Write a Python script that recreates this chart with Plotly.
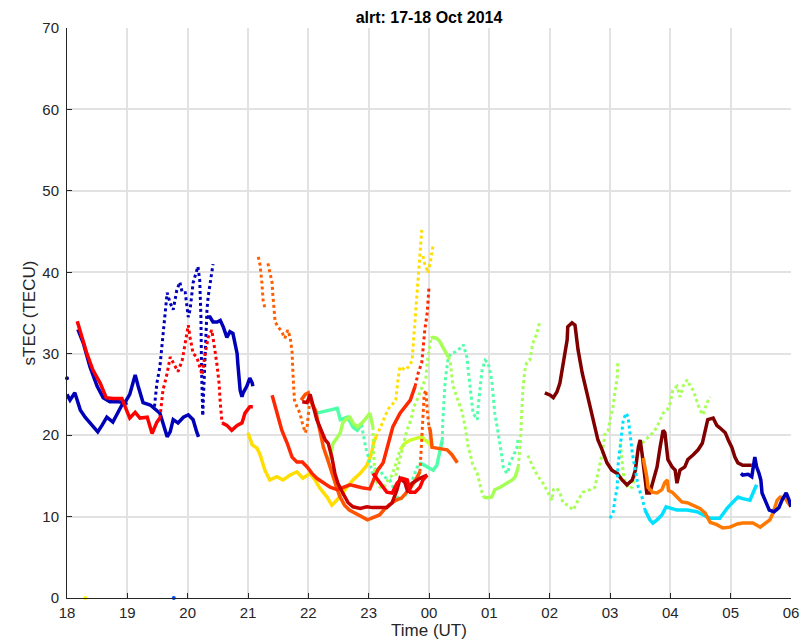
import plotly.graph_objects as go

# ---------------- data (time in hours since 00 UT 17 Oct; 24 = 00 UT 18 Oct) -------------
tick_vals = [18, 19, 20, 21, 22, 23, 24, 25, 26, 27, 28, 29, 30]
tick_text = ["18", "19", "20", "21", "22", "23", "00", "01", "02", "03", "04", "05", "06"]
y_ticks = [0, 10, 20, 30, 40, 50, 60, 70]

# dark blue tracks
blue_lo_t = [18.0, 18.05, 18.13, 18.22, 18.3, 18.38, 18.45, 18.51, 18.58, 18.66, 18.76, 18.85, 18.91, 19.0]
blue_lo_v = [25, 24.3, 25.2, 23.1, 22.2, 21.5, 21, 20.4, 21.2, 22.2, 21.6, 22.8, 23.7, 24]
blue_up_t = [18.18, 18.27, 18.38, 18.5, 18.6, 18.71, 18.85, 18.96, 19.04, 19.1, 19.13, 19.18, 19.22, 19.26,
             19.38, 19.49, 19.54, 19.59, 19.66, 19.71, 19.76, 19.84, 19.93, 20.01, 20.09, 20.15, 20.18]
blue_up_v = [33, 31.3, 28.4, 26, 24.6, 24.1, 24.1, 24, 25, 26.8, 27.4, 26, 25, 24,
             23.7, 23.1, 22.7, 21.5, 19.8, 20.4, 21.9, 21.5, 22.2, 22.5, 21.9, 20.4, 19.8]
blue_hi_t = [19.45, 19.49, 19.54, 19.57, 19.59, 19.62, 19.66, 19.71, 19.76, 19.82, 19.87, 19.91, 19.96,
             20.01, 20.04, 20.09, 20.15, 20.17, 20.2, 20.22, 20.23, 20.24, 20.25]
blue_hi_v = [23.5, 26.4, 28.4, 30.5, 32.5, 34.5, 37.5, 36.2, 35.4, 37.8, 38.8, 37.5, 37.5,
             34.5, 35.4, 38.7, 40.3, 40.7, 39, 34.5, 28, 24, 22.5]
blue_hi2_t = [20.25, 20.27, 20.29, 20.32, 20.34, 20.37, 20.42]
blue_hi2_v = [22.5, 26, 30.5, 35.4, 37, 38.7, 41]
blue_d_t = [20.32, 20.37, 20.42, 20.49, 20.54, 20.59, 20.65, 20.7, 20.75, 20.78, 20.82, 20.83, 20.85,
            20.87, 20.9, 20.92, 20.98, 21.03, 21.07, 21.08]
blue_d_v = [34.5, 34.5, 33.9, 33.9, 34.1, 33.3, 32, 32.7, 32.5, 31.3, 30, 28.9, 27,
            25.5, 24.7, 25.2, 26, 27, 26.4, 26]
blue_end_t = [29.17, 29.2, 29.29, 29.35, 29.4, 29.43, 29.47, 29.5, 29.52, 29.59, 29.64, 29.72, 29.8,
              29.85, 29.92, 29.97, 30.0]
blue_end_v = [15.3, 15.1, 15.2, 14.9, 17.3, 16.1, 15.3, 14.5, 12.9, 11.7, 10.8, 10.6, 11.1,
              12, 12.9, 12, 11.2]

# red track 18-21
red_a_t = [18.17, 18.25, 18.33, 18.43, 18.55, 18.65, 18.76, 18.91, 19.0, 19.04, 19.13, 19.21, 19.33,
           19.41, 19.49, 19.54]
red_a_v = [34, 32, 30, 28, 26.4, 24.6, 24.5, 24.5, 22.7, 22.1, 22.8, 22.1, 22.2, 20.2, 21.6, 22.1]
red_b_t = [19.54, 19.59, 19.66, 19.71, 19.76, 19.84, 19.91, 19.96, 20.01, 20.04, 20.09, 20.15, 20.2,
           20.24, 20.29, 20.34, 20.4, 20.42, 20.45, 20.49, 20.52, 20.54, 20.57]
red_b_v = [22.1, 25.5, 27.6, 29.6, 28.9, 27.8, 29.2, 31.3, 33.5, 32, 30, 29.6, 28.4,
           27.4, 30, 32, 32.9, 31.7, 30.5, 28.4, 26.4, 24, 21.5]
red_c_t = [20.57, 20.65, 20.73, 20.82, 20.9, 20.95, 21.03, 21.08]
red_c_v = [21.5, 21.2, 20.6, 21.2, 21.5, 22.7, 23.5, 23.5]
red2_t = [23.07, 23.19, 23.3, 23.39, 23.47, 23.55, 23.64, 23.69, 23.77, 23.85, 23.9, 23.97]
red2_v = [15.3, 14.1, 13, 12.9, 14.1, 14.7, 14.5, 13, 13, 13.6, 14.5, 15.1]

# yellow tracks
yel_a_t = [21.0, 21.07, 21.15, 21.2, 21.28, 21.36, 21.48, 21.58, 21.7, 21.81, 21.91, 22.03, 22.11,
           22.19, 22.31, 22.39, 22.47, 22.56, 22.64, 22.74, 22.86, 22.97, 23.05, 23.08, 23.12]
yel_a_v = [20.3, 18.8, 18.4, 17.6, 15.7, 14.5, 14.9, 14.5, 15.1, 15.5, 14.7, 15.3, 14.5,
           13.5, 12.4, 11.4, 12, 12.9, 13.6, 14.5, 15.3, 16.3, 17.8, 19, 19.8]
yel_b_t = [23.12, 23.2, 23.28, 23.35, 23.42, 23.45, 23.49, 23.52, 23.6, 23.68, 23.72, 23.74, 23.77,
           23.8, 23.82, 23.85, 23.88]
yel_b_v = [19.8, 21, 22.5, 23.5, 24, 24.3, 27.1, 28.4, 28, 28.5, 29.2, 31.3, 34.1, 37.5, 39, 43.1, 45.2]
yel_c_t = [23.9, 23.93, 23.96, 23.98, 24.0, 24.02, 24.05, 24.07]
yel_c_v = [42, 41, 40.5, 39.9, 40.5, 41.1, 42.5, 43.4]

# orange-red sparse track 21.2-22
ored_a_t = [21.17, 21.2, 21.23, 21.25, 21.28]
ored_a_v = [41.9, 40.9, 38.7, 36.6, 35.6]
ored_b_t = [21.33, 21.36, 21.4, 21.41, 21.45, 21.5, 21.56, 21.61, 21.66, 21.7, 21.73, 21.75, 21.77,
            21.81, 21.86, 21.9, 21.95, 21.98, 22.03]
ored_b_v = [41.1, 39.9, 38.7, 37.4, 33.9, 33.3, 32.7, 31.9, 32.9, 32, 30.2, 26.8, 24.3,
            23.5, 22.7, 21.5, 20.3, 21, 24.7]

# orange track 22-24.5
orng_a_t = [21.88, 21.95, 22.0, 22.05, 22.12, 22.18, 22.25, 22.32, 22.38, 22.45, 22.52, 22.6, 22.68,
            22.78, 22.88, 22.98, 23.05, 23.12, 23.18, 23.25, 23.35, 23.45, 23.55, 23.62, 23.7, 23.78, 23.85]
orng_a_v = [24.3, 25, 25.2, 24, 23, 21, 18.5, 17, 15.5, 14, 12.5, 11.4, 10.8,
            10.4, 10, 9.6, 9.8, 10, 10.2, 10.8, 11.5, 12, 12.3, 12.9, 13.6, 14.5, 15.5]
orng_b_t = [23.85, 23.87, 23.89, 23.9, 23.92, 23.95, 23.97, 24.0]
orng_b_v = [15.5, 18, 20.5, 23, 25, 25.5, 23, 21]
orng_c_t = [24.0, 24.02, 24.05, 24.15, 24.3, 24.38, 24.43, 24.47]
orng_c_v = [21, 20.6, 18.5, 18.4, 18.2, 17.6, 17, 16.6]

# red-orange track 21.4-24
rorg_a_t = [21.4, 21.48, 21.56, 21.65, 21.73, 21.81, 21.9, 21.98, 22.06, 22.14, 22.24, 22.36, 22.48,
            22.57, 22.69, 22.81, 22.91, 23.02, 23.1, 23.15, 23.24, 23.32, 23.4, 23.52, 23.6, 23.69, 23.77]
rorg_a_v = [24.9, 22.7, 20.6, 19, 17.3, 16.7, 16.7, 16.1, 15.3, 14.7, 14.2, 13.6, 13.3,
            13.6, 13.9, 13.7, 13.5, 13.4, 15, 15.7, 16.6, 19, 21, 22.7, 23.5, 24.3, 26]
rorg_b_t = [23.77, 23.82, 23.88, 23.9, 23.93, 23.97, 23.98, 24.0]
rorg_b_v = [26, 27.6, 28.9, 30.5, 32.9, 35, 36.6, 38.2]

# dark red track 22-24
dred_t = [21.9, 21.98, 22.03, 22.08, 22.14, 22.23, 22.28, 22.33, 22.39, 22.44, 22.49, 22.57, 22.66,
          22.74, 22.86, 22.97, 23.07, 23.19, 23.3, 23.39, 23.47, 23.52, 23.6, 23.65, 23.72, 23.85, 23.97]
dred_v = [24.1, 24, 25, 23.5, 21.9, 20.3, 19.4, 19, 17.3, 15.3, 14.1, 12.9, 11.7,
          11.2, 11, 11.2, 11.1, 11.1, 11.1, 11.7, 13.3, 14.7, 14.2, 13, 14.1, 14.7, 15.1]

# aquamarine track 22.1-25.5
aqua_a_t = [22.14, 22.24, 22.36, 22.48, 22.53, 22.65, 22.74, 22.81, 22.88]
aqua_a_v = [22.7, 22.9, 23.1, 23.3, 21.9, 22.2, 21, 20.6, 21.3]
aqua_b_t = [22.88, 22.95, 23.0, 23.03, 23.06, 23.15, 23.25, 23.35, 23.45, 23.5, 23.6, 23.7, 23.8, 23.85]
aqua_b_v = [21.3, 18.5, 17.2, 16.1, 15.3, 16.2, 14.9, 14.5, 12.9, 12, 12.5, 14, 16, 16.6]
aqua_c_t = [23.85, 23.97, 24.07, 24.13, 24.18, 24.22]
aqua_c_v = [16.6, 16.1, 15.7, 16.3, 17.8, 19.4]
aqua_d_t = [24.22, 24.23, 24.27, 24.3, 24.32, 24.38, 24.43, 24.48, 24.55, 24.57, 24.6, 24.63, 24.65,
            24.68, 24.71, 24.73, 24.8, 24.81, 24.85, 24.88, 24.93, 24.98, 25.04, 25.06, 25.09, 25.13,
            25.18, 25.21, 25.23, 25.29, 25.31, 25.34, 25.39, 25.46, 25.48]
aqua_d_v = [19.4, 21.9, 26.8, 28.9, 29.6, 30.1, 30.2, 30.5, 30.8, 31.1, 30.1, 29.5, 28,
            26, 24, 22.7, 21.9, 23.1, 26, 28, 29.2, 28.9, 26.8, 24.7, 22.7, 21,
            19, 17.3, 16.1, 15.3, 15.5, 16.6, 17.3, 18.5, 19.8]

# light-green tracks
lg1_a_t = [22.35, 22.41, 22.47, 22.53, 22.57, 22.63, 22.69, 22.74, 22.81, 22.89, 22.97, 23.02, 23.07]
lg1_a_v = [17, 19, 19.6, 20.3, 21.5, 22, 22.2, 21.5, 21, 21.5, 22.2, 22.7, 21]
lg1_b_t = [23.07, 23.08, 23.1, 23.14, 23.19, 23.25, 23.32, 23.39, 23.45, 23.52]
lg1_b_v = [21, 17.8, 15.7, 14.1, 13.6, 13.5, 14.5, 15.1, 16.5, 18.2]
lime_t = [23.52, 23.6, 23.69, 23.8, 23.88, 23.93, 23.97, 24.02, 24.07]
lime_v = [18.2, 19, 19.4, 19.6, 19.8, 19.4, 19.2, 18.8, 18.5]
lg2_a_t = [23.45, 23.52, 23.58, 23.63, 23.7, 23.75, 23.8, 23.85, 23.9, 23.95, 23.97, 24.0, 24.02, 24.03]
lg2_a_v = [15, 17, 19, 20.5, 21.9, 23.5, 24.3, 25.2, 26, 27.1, 28.9, 30.1, 31.3, 31.9]
lg2_b_t = [24.03, 24.07, 24.13, 24.18, 24.23, 24.28, 24.32]
lg2_b_v = [31.9, 32, 31.9, 31.5, 30.8, 30.2, 29.6]
lg2_c_t = [24.32, 24.35, 24.38, 24.4, 24.46, 24.51, 24.55, 24.6, 24.65, 24.68, 24.72, 24.8, 24.85, 24.88, 24.9]
lg2_c_v = [29.6, 29.2, 27.1, 26, 24.7, 23.5, 22.8, 21, 18.5, 17.8, 16.5, 15.3, 13.6, 12.9, 12.4]
lg2_d_t = [24.9, 24.96, 25.04, 25.09, 25.18, 25.29, 25.38, 25.43, 25.48]
lg2_d_v = [12.4, 12.3, 12.4, 13.3, 13.6, 14.1, 14.5, 14.9, 16.1]
lg2_e_t = [25.48, 25.5, 25.52, 25.53, 25.54, 25.56, 25.59, 25.62, 25.67, 25.72, 25.79, 25.84]
lg2_e_v = [16.1, 17.8, 19.8, 21.9, 24, 26, 28, 28.9, 29.2, 31.3, 32.5, 34.1]
lg3_t = [25.64, 25.67, 25.72, 25.81, 25.89, 25.97, 26.04, 26.06, 26.12, 26.17, 26.22, 26.3, 26.39,
         26.47, 26.55, 26.67, 26.75, 26.8, 26.87, 26.92, 26.97, 27.0, 27.05, 27.08, 27.12, 27.13]
lg3_v = [17.5, 17, 16.1, 14.9, 14.1, 13, 12, 13.3, 13.5, 12.9, 11.7, 11.4, 10.8,
         12, 13, 13.3, 13.6, 15.3, 17.8, 20.3, 20.6, 21.9, 23.5, 25.2, 27.1, 29.2]
lg4_t = [27.17, 27.22, 27.25, 27.3, 27.37, 27.42, 27.45, 27.5, 27.6, 27.71, 27.78, 27.83, 27.88,
         27.95, 28.0, 28.04, 28.11, 28.16, 28.21, 28.28, 28.33, 28.38, 28.44, 28.49, 28.54, 28.61, 28.66]
lg4_v = [19, 15.3, 14.3, 13.5, 13.6, 15.3, 17.8, 18.8, 19.5, 20.3, 21, 21.9, 22.7,
         23.1, 24, 25.5, 26, 24.7, 26, 26.8, 26, 25.5, 24.3, 23.1, 22.5, 24, 24.7]

# maroon track
mar_t = [25.92, 26.01, 26.06, 26.12, 26.17, 26.22, 26.29, 26.3, 26.37, 26.42, 26.47, 26.54, 26.59,
         26.64, 26.7, 26.75, 26.8, 26.87, 26.95, 27.03, 27.12, 27.2, 27.28, 27.37, 27.42, 27.47,
         27.5, 27.53, 27.58, 27.61, 27.66, 27.71, 27.78, 27.83, 27.88, 27.91, 27.96, 28.03, 28.08,
         28.11, 28.16, 28.24, 28.29, 28.38, 28.46, 28.53, 28.58, 28.62, 28.71, 28.77, 28.82, 28.91,
         28.96, 29.02, 29.07, 29.12, 29.2, 29.29, 29.35]
mar_v = [25.2, 24.9, 24.6, 25.3, 26.4, 28.4, 31.7, 33.3, 33.8, 33.5, 30.5, 27.6, 26,
         24.3, 22.2, 21, 19.4, 18.2, 16.6, 15.7, 15.3, 14.5, 13.9, 14.5, 15.7, 18.5,
         19.4, 17.8, 14.5, 12.9, 12.9, 14.1, 16.1, 18.5, 20.6, 20.3, 17, 16.1, 15.7,
         14.1, 15.7, 16.1, 17, 17.6, 18.2, 19, 20.6, 21.9, 22.1, 21.2, 20.9, 20.3,
         19.4, 18.5, 17.3, 16.6, 16.3, 16.3, 16.3]

# cyan track
cyan_a_t = [27.0, 27.05, 27.08, 27.12, 27.13, 27.17, 27.2, 27.22, 27.27, 27.3, 27.33, 27.37, 27.42,
            27.47, 27.53, 27.58]
cyan_a_v = [9.8, 10.4, 12, 13.6, 16.1, 18.5, 20.6, 21.9, 22.7, 22.2, 20.3, 17.8, 15.7, 13.6, 12.4, 10.8]
cyan_b_t = [27.58, 27.66, 27.71, 27.78, 27.86, 27.93, 28.11, 28.28, 28.44, 28.54, 28.66, 28.82, 28.94,
            29.04, 29.12, 29.2, 29.32, 29.37, 29.43]
cyan_b_v = [10.8, 9.6, 9.2, 9.6, 10.2, 11.2, 10.8, 10.8, 10.6, 10.2, 9.8, 9.8, 11,
            11.8, 12.4, 12.2, 12, 12.9, 13.9]

# orange track 27.5-30
or2_t = [27.55, 27.58, 27.61, 27.63, 27.7, 27.78, 27.86, 27.91, 27.95, 27.97, 28.03, 28.11, 28.19,
         28.28, 28.38, 28.49, 28.58, 28.66, 28.77, 28.87, 28.99, 29.11, 29.2, 29.37, 29.49, 29.57,
         29.65, 29.7, 29.77, 29.82, 29.9, 29.95, 30.0]
or2_v = [17.2, 16.1, 14.9, 13.6, 13, 12.9, 13.3, 14.2, 14.5, 13.2, 13, 12.4, 11.8,
         11.7, 11.4, 11, 10.4, 9.3, 9, 8.6, 8.7, 9.1, 9.2, 9.2, 8.7, 9.2,
         9.6, 10.4, 12, 12.4, 12.3, 11.7, 11.2]

# isolated points
pt_blue_t = [18.0]
pt_blue_v = [27]
pt_yel0_t = [18.3]
pt_yel0_v = [0]
pt_blu0_t = [19.77]
pt_blu0_v = [0]

# ---------------- styling ----------------
NAVY = "rgb(0,0,185)"
RED = "rgb(255,0,0)"
YEL = "rgb(255,222,0)"
ORED = "rgb(255,95,0)"
ORNG = "rgb(255,85,0)"
RORG = "rgb(255,40,0)"
DRED = "rgb(200,0,0)"
AQUA = "rgb(80,255,170)"
LGRN = "rgb(165,255,85)"
LIME = "rgb(205,255,45)"
MAR = "rgb(128,0,0)"
CYAN = "rgb(0,225,255)"
OR2 = "rgb(255,120,0)"

SOLID, DOT = "solid", "dot"

segments = [
    (blue_lo_t, blue_lo_v, NAVY, SOLID),
    (blue_up_t, blue_up_v, NAVY, SOLID),
    (blue_hi_t, blue_hi_v, NAVY, DOT),
    (blue_hi2_t, blue_hi2_v, NAVY, DOT),
    (blue_d_t, blue_d_v, NAVY, SOLID),
    (red_a_t, red_a_v, RED, SOLID),
    (red_b_t, red_b_v, RED, DOT),
    (red_c_t, red_c_v, RED, SOLID),
    (yel_a_t, yel_a_v, YEL, SOLID),
    (yel_b_t, yel_b_v, YEL, DOT),
    (yel_c_t, yel_c_v, YEL, DOT),
    (ored_a_t, ored_a_v, ORED, DOT),
    (ored_b_t, ored_b_v, ORED, DOT),
    (aqua_a_t, aqua_a_v, AQUA, SOLID),
    (aqua_b_t, aqua_b_v, AQUA, DOT),
    (aqua_c_t, aqua_c_v, AQUA, SOLID),
    (aqua_d_t, aqua_d_v, AQUA, DOT),
    (lg1_a_t, lg1_a_v, LGRN, SOLID),
    (lg1_b_t, lg1_b_v, LGRN, DOT),
    (lime_t, lime_v, LIME, SOLID),
    (lg2_a_t, lg2_a_v, LGRN, DOT),
    (lg2_b_t, lg2_b_v, LGRN, SOLID),
    (lg2_c_t, lg2_c_v, LGRN, DOT),
    (lg2_d_t, lg2_d_v, LGRN, SOLID),
    (lg2_e_t, lg2_e_v, LGRN, DOT),
    (lg3_t, lg3_v, LGRN, DOT),
    (lg4_t, lg4_v, LGRN, DOT),
    (orng_a_t, orng_a_v, ORNG, SOLID),
    (orng_b_t, orng_b_v, ORNG, DOT),
    (orng_c_t, orng_c_v, ORNG, SOLID),
    (rorg_a_t, rorg_a_v, RORG, SOLID),
    (rorg_b_t, rorg_b_v, RORG, DOT),
    (dred_t, dred_v, DRED, SOLID),
    (red2_t, red2_v, RED, SOLID),
    (mar_t, mar_v, MAR, SOLID),
    (cyan_a_t, cyan_a_v, CYAN, DOT),
    (cyan_b_t, cyan_b_v, CYAN, SOLID),
    (or2_t, or2_v, OR2, SOLID),
    (blue_end_t, blue_end_v, NAVY, SOLID),
]

fig = go.Figure()
for t, v, col, sty in segments:
    if sty == SOLID:
        line = dict(color=col, width=3.5)
    else:
        line = dict(color=col, width=3, dash="3px,3px")
    fig.add_trace(go.Scatter(x=t, y=v, mode="lines", line=line, showlegend=False,
                             hoverinfo="skip"))

for t, v, col in [(pt_blue_t, pt_blue_v, NAVY), (pt_yel0_t, pt_yel0_v, "rgb(255,255,0)"),
                  (pt_blu0_t, pt_blu0_v, "rgb(0,70,255)")]:
    fig.add_trace(go.Scatter(x=t, y=v, mode="markers", marker=dict(color=col, size=4),
                             showlegend=False, hoverinfo="skip", cliponaxis=False))

AX = "#262626"
FONT = "Liberation Sans, Arial, Helvetica, sans-serif"
fig.update_layout(
    width=804, height=642,
    margin=dict(l=67, r=13, t=28, b=44, autoexpand=False),
    paper_bgcolor="white", plot_bgcolor="white",
    font=dict(family=FONT, size=15, color=AX),
    title=dict(text="<b>alrt: 17-18 Oct 2014</b>", x=0.5, xref="paper", xanchor="center",
               y=1 - 17 / 642, yanchor="middle", font=dict(size=16, color="black")),
    xaxis=dict(range=[18, 30], tickmode="array", tickvals=tick_vals, ticktext=tick_text,
               automargin=False, ticklabelstandoff=1,
               showline=True, linecolor=AX, linewidth=1, mirror=False,
               ticks="inside", ticklen=5, tickcolor=AX, tickfont=dict(size=15),
               showgrid=True, gridcolor="rgb(226,226,226)", gridwidth=1.5, zeroline=False,
               title=dict(text="Time (UT)", standoff=0, font=dict(size=17))),
    yaxis=dict(range=[0, 70], tickmode="array", tickvals=y_ticks,
               automargin=False, ticklabelstandoff=4,
               showline=True, linecolor=AX, linewidth=1, mirror=False,
               ticks="inside", ticklen=5, tickcolor=AX, tickfont=dict(size=15),
               showgrid=True, gridcolor="rgb(226,226,226)", gridwidth=1.5, zeroline=False,
               title=dict(text="sTEC (TECU)", standoff=2, font=dict(size=17))),
)

fig.write_html("out.html")
